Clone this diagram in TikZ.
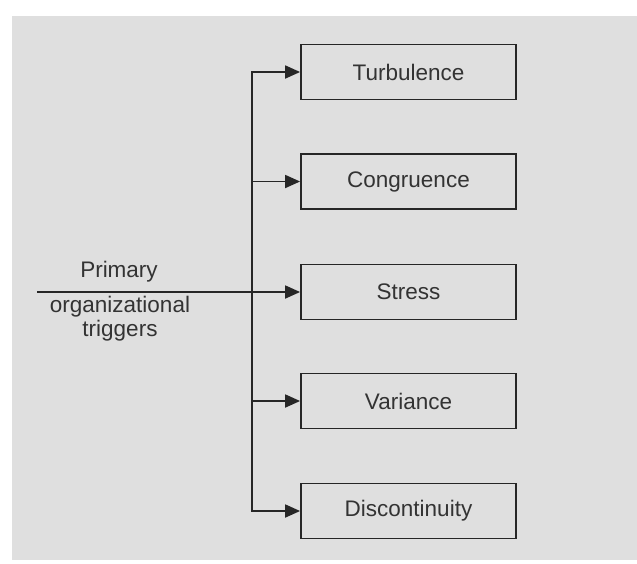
\documentclass[tikz,border=0pt]{standalone}
\usepackage{fontspec}
\setmainfont{Liberation Sans}
\usetikzlibrary{arrows.meta}
\definecolor{panel}{HTML}{DFDFDF}
\definecolor{ink}{HTML}{262626}
\definecolor{txt}{HTML}{333333}
\begin{document}
\begin{tikzpicture}[x=1pt,y=-1pt,
  box/.style={draw=ink,line width=1.8pt,minimum width=215pt,minimum height=55pt,
    inner sep=0pt,text=txt,font=\fontsize{22.5}{27}\selectfont},
  lbl/.style={text=txt,font=\fontsize{22.5}{24}\selectfont,align=center,inner sep=0pt},
  link/.style={draw=ink,line width=1.8pt},
  arr/.style={link,-{Triangle[length=15pt,width=13pt]}}]
  \useasboundingbox (0,0) rectangle (637,563);
  \fill[panel] (12,16) rectangle (637,560);
  % outcome boxes
  \node[box] (turb) at (408.5,72)  {Turbulence};
  \node[box] (cong) at (408.5,181.5) {Congruence};
  \node[box] (strs) at (408.5,292) {Stress};
  \node[box] (vari) at (408.5,401) {Variance};
  \node[box] (disc) at (408.5,511) {Discontinuity};
  % source line and labels
  \coordinate (src) at (37,292);
  \coordinate (trunk) at (252,292);
  \node[lbl] (prim) at (119,272) {Primary};
  \node[lbl] (org) at (120,318.5) {organizational\\triggers};
  % vertical trunk
  \draw[link,line cap=rect] (trunk |- turb.west) -- (trunk |- disc.west);
  \draw[arr] (src) -- (strs.west);
  \foreach \b in {turb,cong,vari,disc}
    \draw[arr] (trunk |- \b.west) -- (\b.west);
\end{tikzpicture}
\end{document}
